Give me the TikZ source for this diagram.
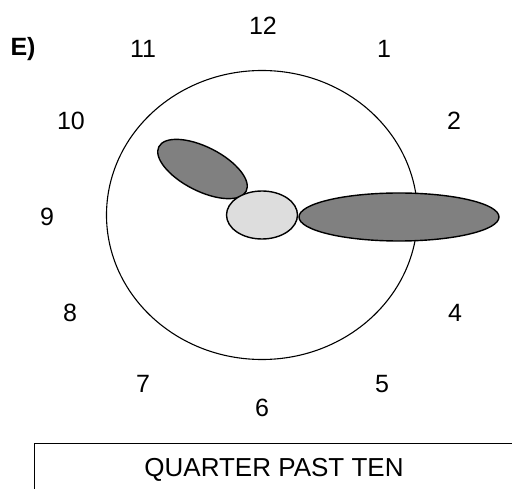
\documentclass[tikz,border=0pt]{standalone}
\usepackage{fontspec}
\setmainfont{Liberation Sans}
\usetikzlibrary{shapes.geometric}
\tikzset{
  num/.style={font=\fontsize{25}{25}\selectfont, inner sep=0pt},
  hand/.style={ellipse, draw=black, line width=1.4pt, fill=handgray, inner sep=0pt},
}
\definecolor{handgray}{HTML}{808080}
\definecolor{hubgray}{HTML}{DDDDDD}
\begin{document}
\begin{tikzpicture}[x=1pt,y=-1pt]
\useasboundingbox (0,0) rectangle (512,489);
\clip (0,0) rectangle (512,489);
% clock face
\node[ellipse, draw=black, line width=1.1pt, minimum width=311pt, minimum height=289pt, inner sep=0pt] (face) at (262,215) {};
% numbers
\node[num] (n12) at (263,26) {12};
\node[num] (n11) at (143,49) {11};
\node[num] (n1)  at (384,49) {1};
\node[num] (n10) at (71,121) {10};
\node[num] (n2)  at (454,121) {2};
\node[num] (n9)  at (47,217) {9};
\node[num] (n8)  at (70,313) {8};
\node[num] (n4)  at (455,313) {4};
\node[num] (n7)  at (143,384) {7};
\node[num] (n5)  at (382,384) {5};
\node[num] (n6)  at (262,408) {6};
\node[num, font=\fontsize{25}{25}\selectfont\bfseries] (lab) at (23,49) {E)};
% hands
\node[hand, minimum width=98pt, minimum height=44pt, rotate=-27] (short) at (202.5,169) {};
\node[ellipse, draw=black, line width=1.4pt, fill=hubgray, inner sep=0pt, minimum width=71pt, minimum height=48pt] (hub) at (262,215) {};
\node[hand, minimum width=200pt, minimum height=48pt] (long) at (399,217) {};
% answer box
\draw[line width=1pt] (34,530) -- (34,443) -- (560,443);
\node[font=\fontsize{26}{26}\selectfont, inner sep=0pt] (answer) at (274,470) {QUARTER PAST TEN};
\end{tikzpicture}
\end{document}
